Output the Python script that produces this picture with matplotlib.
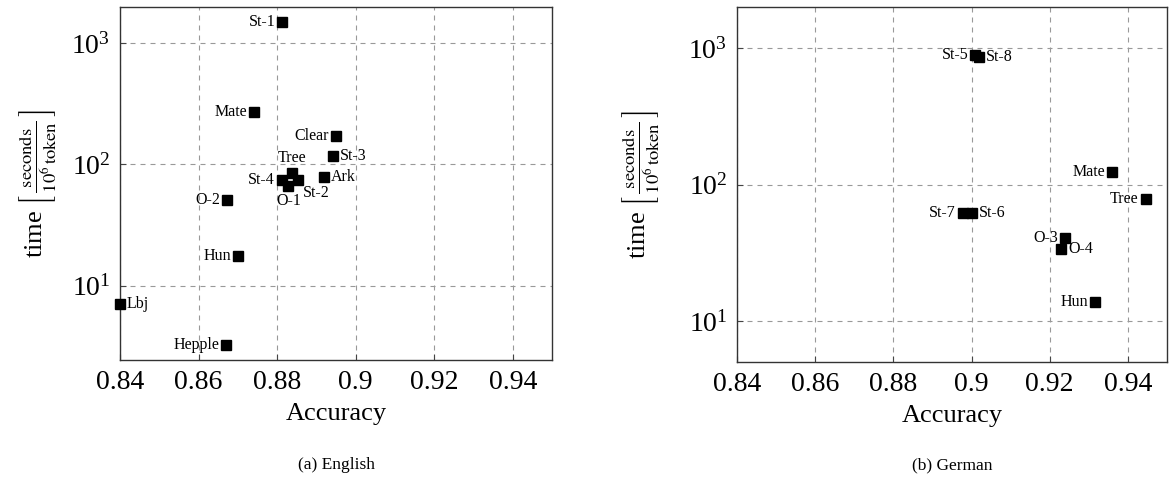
import matplotlib
matplotlib.use("Agg")
import matplotlib.pyplot as plt
from matplotlib.ticker import FixedLocator, FixedFormatter, LogLocator, LogFormatterMathtext, NullLocator

plt.rcParams['font.family'] = ['Liberation Serif', 'DejaVu Serif']
plt.rcParams['mathtext.fontset'] = 'stix'

# ---- data: English ----
en_names = ["St-1", "Mate", "Clear", "St-3", "Tree", "St-4", "St-2", "O-1", "Ark", "O-2", "Hun", "Lbj", "Hepple"]
en_acc = [0.8813, 0.8741, 0.8950, 0.8943, 0.8837, 0.8812, 0.8852, 0.8829, 0.8920, 0.8672, 0.8701, 0.8400, 0.8670]
en_time = [1489, 270, 172, 117, 84.7, 74.6, 74.6, 66.9, 79.4, 51.0, 17.7, 7.1, 3.23]
en_pos = ["w", "w", "w", "e", "n", "w", "se", "s", "e", "w", "w", "e", "w"]

# ---- data: German ----
de_names = ["St-5", "St-8", "Mate", "Tree", "St-7", "St-6", "O-3", "O-4", "Hun"]
de_acc = [0.9010, 0.9020, 0.9360, 0.9445, 0.8978, 0.9001, 0.9239, 0.9229, 0.9317]
de_time = [889, 855, 123, 78.7, 62.2, 62.2, 40.8, 33.5, 13.8]
de_pos = ["w", "e", "w", "w", "w", "e", "w", "e", "w"]

xticks = [0.84, 0.86, 0.88, 0.90, 0.92, 0.94]
xticklabels = ["0.84", "0.86", "0.88", "0.9", "0.92", "0.94"]

fig = plt.figure(figsize=(11.69, 4.90), dpi=100)
H = 490.0
W = 1169.0
ax1 = fig.add_axes([120 / W, 1 - 360 / H, 432 / W, 353 / H])
ax2 = fig.add_axes([737 / W, 1 - 362 / H, 430 / W, 355 / H])

offsets = {
    "w": ((-5, 0), "right", "center"),
    "e": ((5, 0), "left", "center"),
    "n": ((0, 5), "center", "bottom"),
    "s": ((0, -5), "center", "top"),
    "se": ((4, -4), "left", "top"),
}

def draw(ax, names, acc, tm, pos, ylim, ypad):
    ax.set_yscale('log')
    ax.plot(acc, tm, linestyle='none', marker='s', markersize=7.5, color='black', clip_on=False, zorder=3)
    for n, a, t, p in zip(names, acc, tm, pos):
        off, ha, va = offsets[p]
        ax.annotate(n, (a, t), xytext=off, textcoords='offset points', ha=ha, va=va,
                    fontsize=11.5, zorder=4)
    ax.set_xlim(0.84, 0.95)
    ax.set_ylim(*ylim)
    ax.xaxis.set_major_locator(FixedLocator(xticks))
    ax.xaxis.set_major_formatter(FixedFormatter(xticklabels))
    ax.yaxis.set_major_locator(LogLocator(base=10, numticks=10))
    ax.yaxis.set_major_formatter(LogFormatterMathtext())
    ax.yaxis.set_minor_locator(NullLocator())
    ax.grid(True, which='major', color='#999999', linestyle=(0, (4.5, 4.5)), linewidth=0.8)
    ax.set_axisbelow(True)
    ax.tick_params(axis='both', which='major', direction='in', length=4, labelsize=20, pad=7,
                   color='#444444')
    for s in ax.spines.values():
        s.set_linewidth(1.0)
        s.set_color('#333333')
    ax.set_xlabel("Accuracy", fontsize=19, labelpad=6)
    ax.set_ylabel(r"time $\left[\,\frac{\mathrm{seconds}}{10^{6}\,\mathrm{token}}\,\right]$",
                  fontsize=19, labelpad=ypad)

draw(ax1, en_names, en_acc, en_time, en_pos, (2.45, 1980), 9)
draw(ax2, de_names, de_acc, de_time, de_pos, (5.0, 2000), 19)

fig.text(336 / W, 1 - 465 / H, "(a) English", ha='center', va='center', fontsize=12.5)
fig.text(952 / W, 1 - 465 / H, "(b) German", ha='center', va='center', fontsize=12.5)

fig.savefig("out.png", dpi=100)
